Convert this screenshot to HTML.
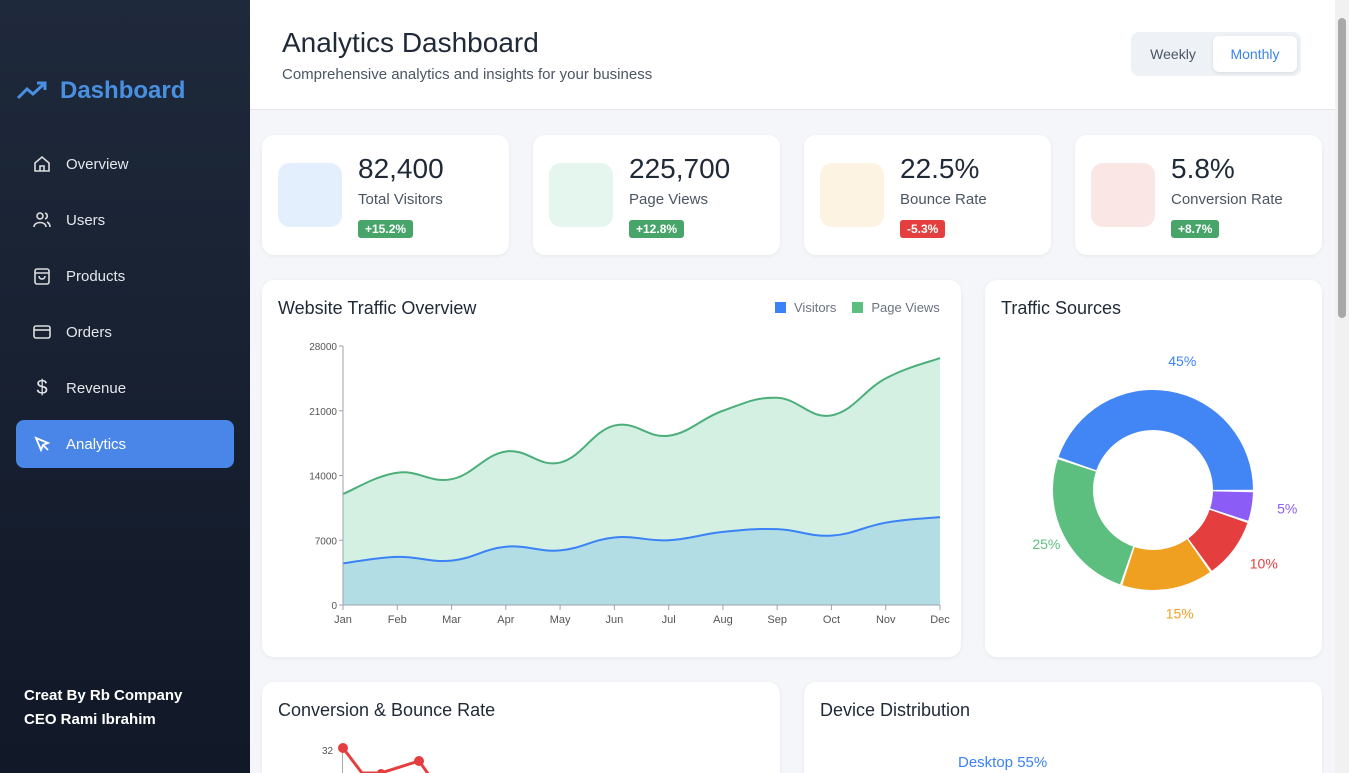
<!DOCTYPE html>
<html style="width:1349px;height:773px;overflow:hidden"><head><meta charset="utf-8">
<style>
*{box-sizing:border-box;margin:0;padding:0}
body{width:1349px;height:773px;overflow:hidden;font-family:"Liberation Sans",sans-serif;background:#f4f6fa;position:relative}
.side{position:absolute;left:0;top:0;width:250px;height:773px;background:linear-gradient(180deg,#1e293b,#111827)}
.logo{position:absolute;left:16px;top:77px;color:#4a90e2;font-weight:bold;font-size:24px;display:flex;align-items:center;gap:12px}
.nav{position:absolute;left:16px;width:218px;height:48px;border-radius:8px;color:#e5e7eb;font-size:15px;display:flex;align-items:center;padding-left:16px;gap:14px}
.nav svg{width:20px;height:20px}
.nav.active{background:#4a86e8;color:#fff}
.credit{position:absolute;left:24px;top:684px;color:#fff;font-weight:bold;font-size:15px;line-height:24px}
.header{position:absolute;left:250px;top:0;width:1085px;height:110px;background:#fff;border-bottom:1px solid #e5e7eb}
.header h1{position:absolute;left:32px;top:27px;font-size:28px;font-weight:normal;color:#1f2937}
.header p{position:absolute;left:32px;top:66px;font-size:15px;color:#4b5563}
.toggle{position:absolute;left:881px;top:32px;width:170px;height:44px;background:#eef1f5;border-radius:8px}
.toggle span{position:absolute;top:4px;height:36px;line-height:36px;font-size:14px;text-align:center}
.card{position:absolute;background:#fff;border-radius:12px;box-shadow:0 1px 4px rgba(0,0,0,.06)}
.stat .ic{position:absolute;left:16px;top:28px;width:64px;height:64px;border-radius:12px}
.stat .v{position:absolute;left:96px;top:18px;font-size:28px;color:#1f2937}
.stat .l{position:absolute;left:96px;top:56px;font-size:15px;color:#4b5563}
.stat .b{position:absolute;left:96px;top:85px;font-size:12px;color:#fff;font-weight:bold;padding:2px 7px;border-radius:3px}
.ttl{position:absolute;left:16px;top:18px;font-size:18px;color:#1f2937}
.scroll{position:absolute;right:0;top:0;width:14px;height:773px;background:#f1f1f1}
.scroll div{position:absolute;left:3px;top:18px;width:8px;height:300px;background:#a8a8a8;border-radius:4px}
</style></head><body>
<div class="side">
 <div class="logo"><svg width="32" height="22" viewBox="0 0 32 22"><path d="M2 18 L11 9 L17 14 L29 3 M21 3 H29 V10" fill="none" stroke="#4a90e2" stroke-width="3"/></svg>Dashboard</div>
 <div class="nav" style="top:140px"><svg viewBox="0 0 20 20"><path d="M3 9 L10 3 L17 9 V17 H3Z M8 17 V12 H12 V17" fill="none" stroke="#ddd" stroke-width="1.6"/></svg>Overview</div>
 <div class="nav" style="top:196px"><svg viewBox="0 0 20 20"><circle cx="8" cy="6" r="3" fill="none" stroke="#ddd" stroke-width="1.6"/><path d="M2 17 C2 11 14 11 14 17 M13 3 C16 4 16 8 13 9 M15 12 C17 13 18 15 18 17" fill="none" stroke="#ddd" stroke-width="1.6"/></svg>Users</div>
 <div class="nav" style="top:252px"><svg viewBox="0 0 20 20"><rect x="3" y="3" width="14" height="15" rx="2" fill="none" stroke="#ddd" stroke-width="1.6"/><path d="M3 7 H17 M7 10 C7 14 13 14 13 10" fill="none" stroke="#ddd" stroke-width="1.6"/></svg>Products</div>
 <div class="nav" style="top:308px"><svg viewBox="0 0 20 20"><rect x="2" y="4" width="16" height="12" rx="2" fill="none" stroke="#ddd" stroke-width="1.6"/><path d="M2 8 H18" stroke="#ddd" stroke-width="1.6"/></svg>Orders</div>
 <div class="nav" style="top:364px"><span style="font-size:20px;width:20px;text-align:center">$</span>Revenue</div>
 <div class="nav active" style="top:420px"><svg viewBox="0 0 20 20"><path d="M4 4 L16 9 L11 11 L9 16Z M11 11 L16 16" fill="none" stroke="#fff" stroke-width="1.8"/></svg>Analytics</div>
 <div class="credit">Creat By Rb Company<br>CEO Rami Ibrahim</div>
</div>
<div class="header">
 <h1>Analytics Dashboard</h1>
 <p>Comprehensive analytics and insights for your business</p>
 <div class="toggle">
  <span style="left:4px;width:76px;color:#4b5563">Weekly</span>
  <span style="left:82px;width:84px;background:#fff;border-radius:6px;color:#3b82f6;box-shadow:0 1px 3px rgba(0,0,0,.1)">Monthly</span>
 </div>
</div>
<div class="card stat" style="left:262px;top:135px;width:247px;height:120px"><div class="ic" style="background:#e3effd"></div><div class="v">82,400</div><div class="l">Total Visitors</div><div class="b" style="background:#48a56a">+15.2%</div></div>
<div class="card stat" style="left:533px;top:135px;width:247px;height:120px"><div class="ic" style="background:#e5f6ee"></div><div class="v">225,700</div><div class="l">Page Views</div><div class="b" style="background:#48a56a">+12.8%</div></div>
<div class="card stat" style="left:804px;top:135px;width:247px;height:120px"><div class="ic" style="background:#fdf3e3"></div><div class="v">22.5%</div><div class="l">Bounce Rate</div><div class="b" style="background:#e53e3e">-5.3%</div></div>
<div class="card stat" style="left:1075px;top:135px;width:247px;height:120px"><div class="ic" style="background:#fbe6e6"></div><div class="v">5.8%</div><div class="l">Conversion Rate</div><div class="b" style="background:#48a56a">+8.7%</div></div>

<div class="card" style="left:262px;top:280px;width:699px;height:377px">
 <div class="ttl">Website Traffic Overview</div>
 <div style="position:absolute;left:513px;top:20px;font-size:13px;color:#6b7280"><span><span style="display:inline-block;width:11px;height:11px;background:#3b82f6;margin-right:8px;vertical-align:-1px"></span>Visitors</span><span style="margin-left:16px"><span style="display:inline-block;width:11px;height:11px;background:#5cbf7f;margin-right:8px;vertical-align:-1px"></span>Page Views</span></div>
</div>
<svg id="area" style="position:absolute;left:0;top:0" width="1349" height="773"></svg>

<div class="card" style="left:985px;top:280px;width:337px;height:377px">
 <div class="ttl">Traffic Sources</div>
</div>
<svg id="donut" style="position:absolute;left:0;top:0" width="1349" height="773"></svg>

<div style="position:absolute;left:0;top:0;width:1349px;height:773px;overflow:hidden;pointer-events:none">
<div class="card" style="left:262px;top:682px;width:518px;height:120px">
 <div class="ttl">Conversion &amp; Bounce Rate</div>
 <div style="position:absolute;left:60px;top:64px;font-size:10px;color:#555">32</div>
 <div style="position:absolute;left:80px;top:68px;width:1px;height:40px;background:#aaa"></div>
 <svg style="position:absolute;left:0;top:0" width="518" height="100"><polyline points="81,66 100,91 119,91 157,79 172,100" fill="none" stroke="#e53e3e" stroke-width="3"/><circle cx="81" cy="66" r="5" fill="#e53e3e"/><circle cx="157" cy="79" r="5" fill="#e53e3e"/><circle cx="119" cy="91" r="4" fill="#e53e3e"/></svg>
</div>
<div class="card" style="left:804px;top:682px;width:518px;height:120px">
 <div class="ttl">Device Distribution</div>
 <div style="position:absolute;left:154px;top:72px;font-size:15px;color:#3b82f6">Desktop 55%</div>
</div>
</div>
<div class="scroll"><div></div></div>

<script>
const months=["Jan","Feb","Mar","Apr","May","Jun","Jul","Aug","Sep","Oct","Nov","Dec"];
const visitors=[4500,5200,4800,6300,5900,7300,7000,7900,8200,7500,8900,9500];
const pageViews=[12000,14300,13600,16600,15400,19400,18300,21000,22400,20500,24500,26700];
const yTicks=[0,7000,14000,21000,28000];
const sourceLabels=["Direct","Organic","Referral","Social","Email"];
const sourceValues=[45,5,10,15,25];
const sourceColors=["#4285f4","#8b5cf6","#e53e3e","#f0a020","#5cbf7f"];

const NS="http://www.w3.org/2000/svg";
function mk(p,t,a){const e=document.createElementNS(NS,t);for(const k in a)e.setAttribute(k,a[k]);p.appendChild(e);return e;}
const X0=343,X1=940,Y0=605,Y1=346,YMAX=28000;
const xs=i=>X0+(X1-X0)*i/(months.length-1);
const ys=v=>Y0-(Y0-Y1)*v/YMAX;
const svg=document.getElementById('area');
function smooth(vals){const p=vals.map((v,i)=>[xs(i),ys(v)]);
 let d="M"+p[0][0]+","+p[0][1];
 for(let i=0;i<p.length-1;i++){const p0=p[Math.max(i-1,0)],p1=p[i],p2=p[i+1],p3=p[Math.min(i+2,p.length-1)];
  const t=0.2;d+=" C"+(p1[0]+(p2[0]-p0[0])*t)+","+(p1[1]+(p2[1]-p0[1])*t)+" "+(p2[0]-(p3[0]-p1[0])*t)+","+(p2[1]-(p3[1]-p1[1])*t)+" "+p2[0]+","+p2[1];}
 return d;}
const close=" L"+X1+","+Y0+" L"+X0+","+Y0+" Z";
let e;
e=mk(svg,'path',{d:smooth(pageViews)+close,fill:'#d3f0e3'});


e=mk(svg,'path',{d:smooth(visitors)+close,fill:'#b2dde4'});


e=mk(svg,'path',{d:smooth(pageViews),fill:'none',stroke:'#4caf7a','stroke-width':2});


e=mk(svg,'path',{d:smooth(visitors),fill:'none',stroke:'#3b82f6','stroke-width':2});


mk(svg,'line',{x1:X0,y1:Y1,x2:X0,y2:Y0,stroke:'#9ca3af','stroke-width':1});
mk(svg,'line',{x1:X0,y1:Y0,x2:X1,y2:Y0,stroke:'#9ca3af','stroke-width':1});
yTicks.forEach(v=>{mk(svg,'line',{x1:X0-4,y1:ys(v),x2:X0,y2:ys(v),stroke:'#9ca3af'});
 const t=mk(svg,'text',{x:X0-6,y:ys(v)+4,'text-anchor':'end','font-size':10,fill:'#555','font-family':'Liberation Sans'});t.textContent=v;
 
 });
months.forEach((m,i)=>{mk(svg,'line',{x1:xs(i),y1:Y0,x2:xs(i),y2:Y0+5,stroke:'#9ca3af'});
 const t=mk(svg,'text',{x:xs(i),y:Y0+18,'text-anchor':'middle','font-size':11,fill:'#555','font-family':'Liberation Sans'});t.textContent=m;
 
 });

const dn=document.getElementById('donut');
const CX=1153,CY=490,RO=100,RI=60;
const total=sourceValues.reduce((a,b)=>a+b,0);
let ang=-(sourceValues[0]/total)*2*Math.PI+0.01;
const labelCol=["#3b82f6","#8b5cf6","#e53e3e","#f0a020","#5cbf7f"];
sourceValues.forEach((v,i)=>{
 const a0=ang,a1=ang+v/total*2*Math.PI;ang=a1;
 const g=0.012;const b0=a0+g,b1=a1-g;const big=(b1-b0)>Math.PI?1:0;
 const P=(r,a)=>(CX+r*Math.cos(a))+","+(CY+r*Math.sin(a));
 e=mk(dn,'path',{d:"M"+P(RO,b0)+" A"+RO+","+RO+" 0 "+big+" 1 "+P(RO,b1)+" L"+P(RI,b1)+" A"+RI+","+RI+" 0 "+big+" 0 "+P(RI,b0)+" Z",fill:sourceColors[i]});
 
 
 const m=(a0+a1)/2,lr=RO+28;
 const t=mk(dn,'text',{x:CX+lr*Math.cos(m)+8,y:CY+lr*Math.sin(m)+2,'text-anchor':'middle','font-size':14,fill:labelCol[i],'font-family':'Liberation Sans'});
 t.textContent=v+"%";
 
 
});
</script>
</body></html>
